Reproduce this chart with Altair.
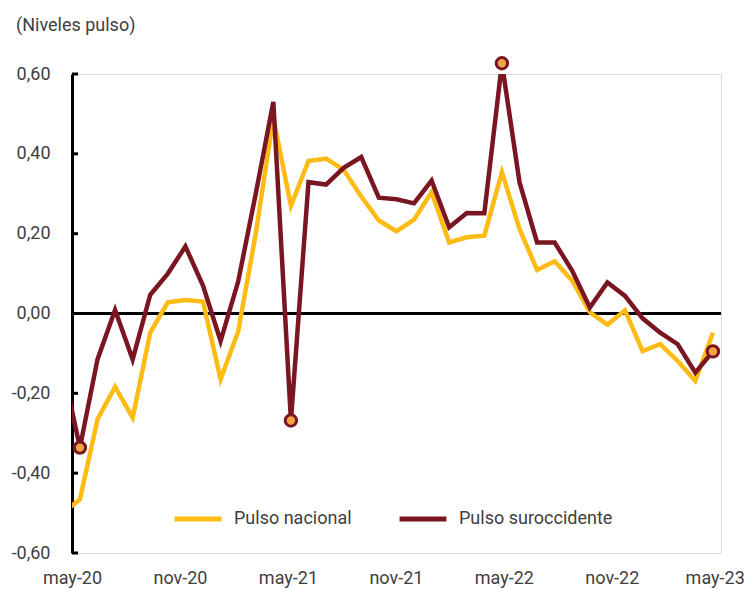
import altair as alt
import pandas as pd

months = ["abr-20", "may-20", "jun-20", "jul-20", "ago-20", "sep-20", "oct-20", "nov-20", "dic-20",
          "ene-21", "feb-21", "mar-21", "abr-21", "may-21", "jun-21", "jul-21", "ago-21", "sep-21",
          "oct-21", "nov-21", "dic-21", "ene-22", "feb-22", "mar-22", "abr-22", "may-22", "jun-22",
          "jul-22", "ago-22", "sep-22", "oct-22", "nov-22", "dic-22", "ene-23", "feb-23", "mar-23",
          "abr-23", "may-23"]

pulso_nacional = [-0.50, -0.466, -0.265, -0.184, -0.261, -0.048, 0.028, 0.034, 0.030,
                  -0.165, -0.045, 0.20, 0.49, 0.27, 0.382, 0.388, 0.36, 0.293,
                  0.233, 0.206, 0.235, 0.304, 0.178, 0.191, 0.195, 0.354, 0.212,
                  0.109, 0.131, 0.082, 0.003, -0.028, 0.008, -0.094, -0.077, -0.119,
                  -0.169, -0.048]

pulso_suroccidente = [-0.13, -0.336, -0.115, 0.009, -0.115, 0.047, 0.100, 0.168, 0.070,
                      -0.069, 0.080, 0.30, 0.530, -0.268, 0.329, 0.323, 0.365, 0.392,
                      0.290, 0.286, 0.276, 0.333, 0.216, 0.252, 0.251, 0.627, 0.329,
                      0.178, 0.178, 0.107, 0.015, 0.078, 0.044, -0.012, -0.048, -0.077,
                      -0.148, -0.095]

highlighted = ["may-20", "may-21", "may-22", "may-23"]

x_labels = ["may-20", "nov-20", "may-21", "nov-21", "may-22", "nov-22", "may-23"]
y_ticks = [-0.6, -0.4, -0.2, 0.0, 0.2, 0.4, 0.6]

series_names = ["Pulso nacional", "Pulso suroccidente"]
colors = ["#FDBB14", "#7A1522"]

rows = []
for i, m in enumerate(months):
    rows.append({"mes": m, "idx": i - 1, "serie": series_names[0], "valor": pulso_nacional[i]})
for i, m in enumerate(months):
    rows.append({"mes": m, "idx": i - 1, "serie": series_names[1], "valor": pulso_suroccidente[i]})
df = pd.DataFrame(rows)
df_ticks = pd.DataFrame({"t": y_ticks})

FONT = "Roboto"
TXT = "#404040"

label_vals = [-0.45 + 6.14 * j for j in range(len(x_labels))]
label_vals[-1] = 36.1
label_expr = "[" + ",".join("'%s'" % s for s in x_labels) + "][round((datum.value + 0.45) / 6.14)]"

xscale = alt.Scale(domain=[-0.45, 36.46], nice=False, zero=False)
yscale = alt.Scale(domain=[-0.6, 0.6], nice=False)

x_enc = alt.X("idx:Q", scale=xscale,
              axis=alt.Axis(values=label_vals, labelExpr=label_expr, title=None, domain=False,
                            ticks=False, grid=False, labelFont=FONT, labelFontSize=18,
                            labelColor=TXT, labelPadding=16, labelFlush=False, labelOverlap=False))
y_enc = alt.Y("valor:Q", scale=yscale,
              axis=alt.Axis(values=y_ticks, title=None, grid=False, tickSize=0, domainWidth=3,
                            domainColor="black", labelFont=FONT, labelFontSize=18, labelColor=TXT,
                            labelPadding=22,
                            labelExpr="replace(replace(format(datum.value, '.2f'), '.', ','), '\u2212', '-')"))

zero = alt.Chart(pd.DataFrame({"z": [0]})).mark_rule(color="black", strokeWidth=3).encode(
    y=alt.Y("z:Q", scale=yscale)
)

ticks = alt.Chart(df_ticks).mark_rule(color="black", strokeWidth=3).encode(
    y=alt.Y("t:Q", scale=yscale), x=alt.value(0), x2=alt.value(6)
)

lines = alt.Chart(df).mark_line(strokeWidth=4.5, clip=True, strokeJoin="miter").encode(
    x=x_enc,
    y=y_enc,
    color=alt.Color("serie:N", scale=alt.Scale(domain=series_names, range=colors),
                    legend=alt.Legend(title=None, orient="none", legendX=100, legendY=419,
                                      direction="horizontal", symbolType="stroke",
                                      symbolStrokeWidth=5, symbolSize=2200,
                                      labelFont=FONT, labelFontSize=18, labelColor=TXT,
                                      labelOffset=10, columnPadding=37, labelLimit=300)),
    order=alt.Order("idx:Q"),
)

points = alt.Chart(df).transform_filter(
    alt.FieldEqualPredicate(field="serie", equal=series_names[1])
).transform_filter(
    alt.FieldOneOfPredicate(field="mes", oneOf=highlighted)
).mark_point(filled=True, size=130, fill="#F2A343", stroke="#7A1522", strokeWidth=3, opacity=1).encode(
    x=alt.X("idx:Q", scale=xscale),
    y=alt.Y("valor:Q", scale=yscale),
)

chart = alt.layer(zero, lines, points, ticks).properties(
    width=649, height=479,
    autosize=alt.AutoSizeParams(type="none"),
    padding={"left": 64, "top": 66, "right": 23, "bottom": 36},
    title=alt.TitleParams("(Niveles pulso)", anchor="start", frame="group", dx=-56, offset=17,
                          font=FONT, fontSize=18, fontWeight="normal", color=TXT),
).configure_view(stroke=None).configure(background="white")

chart.save("out.html", embed_options={"renderer": "svg", "actions": False})
